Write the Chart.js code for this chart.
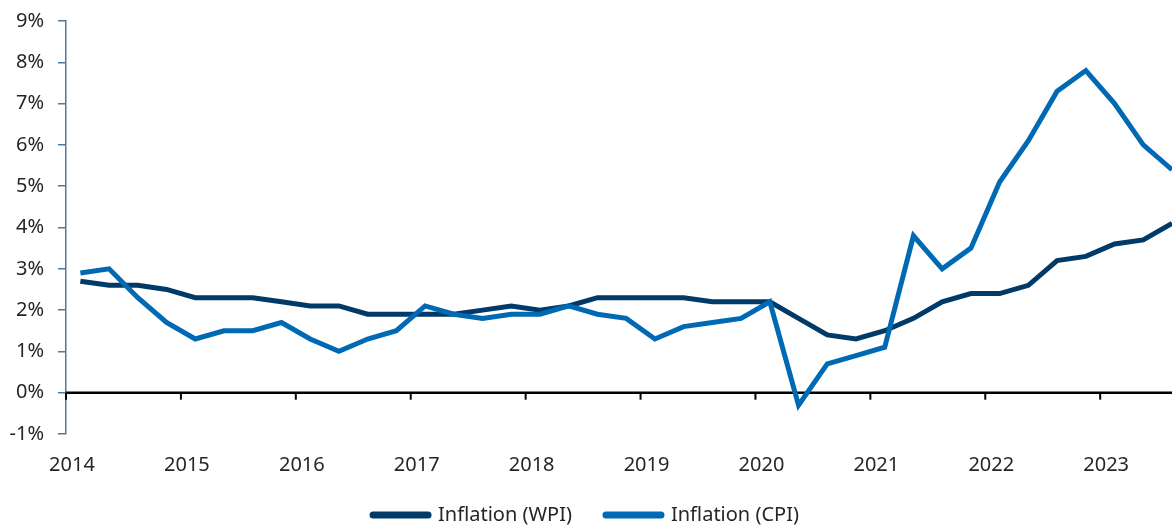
<!DOCTYPE html>
<html>
<head>
<meta charset="utf-8">
<script src="https://cdn.jsdelivr.net/npm/chart.js@4/dist/chart.umd.min.js"></script>
<style>
  html, body { margin: 0; padding: 0; background: #fff; overflow: hidden; }
</style>
</head>
<body>
<canvas id="inflationChart" width="1172" height="527"></canvas>
<script>
const quarters = [
  '2014Q1', '2014Q2', '2014Q3', '2014Q4', '2015Q1', '2015Q2', '2015Q3', '2015Q4',
  '2016Q1', '2016Q2', '2016Q3', '2016Q4', '2017Q1', '2017Q2', '2017Q3', '2017Q4',
  '2018Q1', '2018Q2', '2018Q3', '2018Q4', '2019Q1', '2019Q2', '2019Q3', '2019Q4',
  '2020Q1', '2020Q2', '2020Q3', '2020Q4', '2021Q1', '2021Q2', '2021Q3', '2021Q4',
  '2022Q1', '2022Q2', '2022Q3', '2022Q4', '2023Q1', '2023Q2', '2023Q3'
];
const wpi = [
  2.7, 2.6, 2.6, 2.5, 2.3, 2.3, 2.3, 2.2,
  2.1, 2.1, 1.9, 1.9, 1.9, 1.9, 2.0, 2.1,
  2.0, 2.1, 2.3, 2.3, 2.3, 2.3, 2.2, 2.2,
  2.2, 1.8, 1.4, 1.3, 1.5, 1.8, 2.2, 2.4,
  2.4, 2.6, 3.2, 3.3, 3.6, 3.7, 4.1
];
const cpi = [
  2.9, 3.0, 2.3, 1.7, 1.3, 1.5, 1.5, 1.7,
  1.3, 1.0, 1.3, 1.5, 2.1, 1.9, 1.8, 1.9,
  1.9, 2.1, 1.9, 1.8, 1.3, 1.6, 1.7, 1.8,
  2.2, -0.3, 0.7, 0.9, 1.1, 3.8, 3.0, 3.5,
  5.1, 6.1, 7.3, 7.8, 7.0, 6.0, 5.4
];
const yearTicks = [2014, 2015, 2016, 2017, 2018, 2019, 2020, 2021, 2022, 2023];

// quarter label -> position on a year axis (middle of the quarter)
const quarterPos = q => Number(q.slice(0, 4)) + (Number(q.slice(5)) - 0.5) / 4;
const toPoints = values => values.map((v, i) => ({ x: quarterPos(quarters[i]), y: v }));

const FONT = '"Noto Sans", sans-serif';
const TEXT = '#262626';
const AXIS_BLUE = '#52779c';

// zero line with year ticks hanging below it
const zeroAxisPlugin = {
  id: 'zeroAxis',
  beforeDatasetsDraw(chart) {
    const { ctx, chartArea, scales } = chart;
    const y0 = scales.y.getPixelForValue(0);
    ctx.save();
    ctx.strokeStyle = '#000';
    ctx.lineWidth = 2.5;
    ctx.beginPath();
    ctx.moveTo(chartArea.left, y0);
    ctx.lineTo(chartArea.right, y0);
    ctx.stroke();
    ctx.lineWidth = 2;
    yearTicks.forEach(yr => {
      const x = scales.x.getPixelForValue(yr);
      ctx.beginPath();
      ctx.moveTo(x, y0);
      ctx.lineTo(x, y0 + 7);
      ctx.stroke();
    });
    ctx.restore();
  }
};

// legend box is kept short for the layout, then its top is pulled up
const legendNudgePlugin = {
  id: 'legendNudge',
  afterLayout(chart) {
    chart.legend.top -= 13;
  }
};

new Chart(document.getElementById('inflationChart').getContext('2d'), {
  type: 'line',
  data: {
    datasets: [
      {
        label: 'Inflation (WPI)',
        data: toPoints(wpi),
        borderColor: '#003a68',
        backgroundColor: '#003a68',
        borderWidth: 5,
        pointRadius: 0,
        tension: 0,
        order: 1
      },
      {
        label: 'Inflation (CPI)',
        data: toPoints(cpi),
        borderColor: '#0069b4',
        backgroundColor: '#0069b4',
        borderWidth: 5,
        pointRadius: 0,
        tension: 0,
        order: 0
      }
    ]
  },
  options: {
    responsive: false,
    animation: false,
    layout: { padding: { top: 21, right: 0, left: 0, bottom: 0 } },
    scales: {
      x: {
        type: 'linear',
        min: 2014,
        max: 2023.625,
        afterFit(scale) { scale.height = 50; },
        border: { display: false },
        grid: { display: false, drawTicks: false },
        ticks: {
          stepSize: 1,
          includeBounds: false,
          autoSkip: false,
          maxRotation: 0,
          padding: 19,
          labelOffset: 6,
          color: TEXT,
          font: { family: FONT, size: 20 },
          callback: v => String(v)
        }
      },
      y: {
        min: -1,
        max: 9,
        afterFit(scale) {
          scale.width = 66;
          scale.paddingTop = 0;
          scale.paddingBottom = 0;
        },
        border: { display: true, color: AXIS_BLUE, width: 1.5 },
        grid: {
          display: true,
          drawOnChartArea: false,
          drawTicks: true,
          tickLength: 8,
          color: AXIS_BLUE,
          lineWidth: 1.5
        },
        ticks: {
          stepSize: 1,
          padding: 14,
          color: TEXT,
          font: { family: FONT, size: 20 },
          callback: v => v + '%'
        }
      }
    },
    plugins: {
      tooltip: { enabled: false },
      legend: {
        position: 'bottom',
        maxHeight: 43,
        labels: {
          usePointStyle: true,
          pointStyleWidth: 55,
          padding: 34,
          color: TEXT,
          font: { family: FONT, size: 20 },
          generateLabels(chart) {
            return Chart.defaults.plugins.legend.labels.generateLabels(chart)
              .sort((a, b) => a.datasetIndex - b.datasetIndex)
              .map(item => Object.assign(item, { pointStyle: 'line', lineWidth: 7, lineCap: 'round' }));
          }
        }
      }
    }
  },
  plugins: [zeroAxisPlugin, legendNudgePlugin]
});
</script>
</body>
</html>
